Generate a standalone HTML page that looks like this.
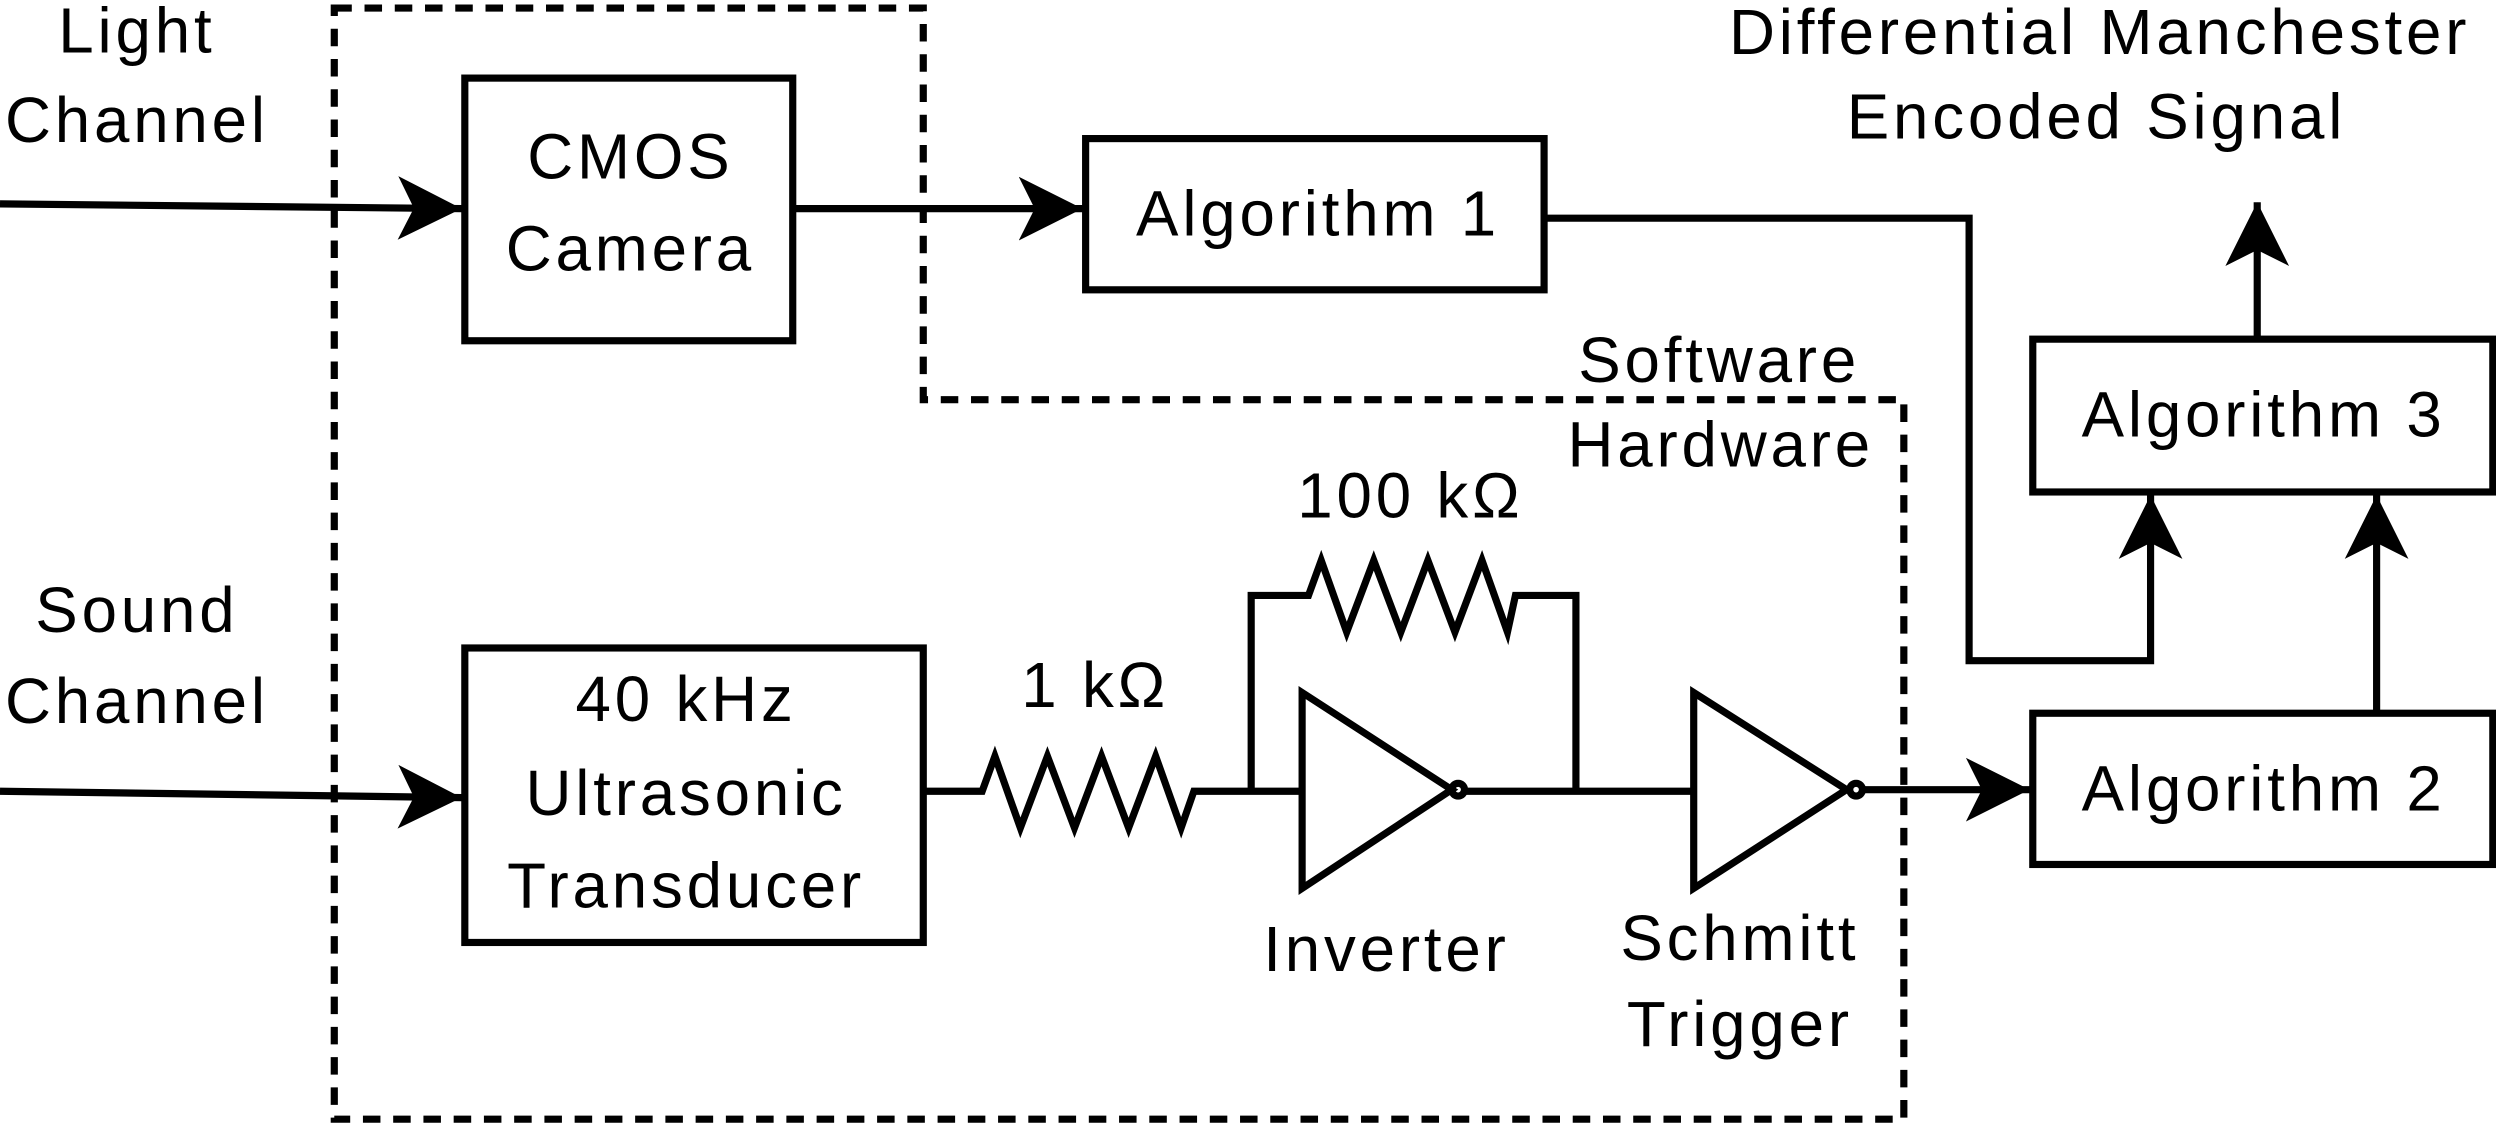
<!DOCTYPE html>
<html><head><meta charset="utf-8"><style>
html,body{margin:0;padding:0;background:#fff;}
svg{display:block;}
text{font-family:"Liberation Sans",Arial,sans-serif;font-size:40px;fill:#000;text-anchor:middle;letter-spacing:2.4px;}
</style></head><body>
<svg width="2496" height="1132" viewBox="0 0 1568 711" xmlns="http://www.w3.org/2000/svg">
<defs>
<marker id="ar" markerWidth="44" markerHeight="44" refX="40" refY="22" orient="auto" markerUnits="userSpaceOnUse">
<path d="M0,2 L40,22 L0,42 L10,22 Z" fill="#000"/>
</marker>
</defs>
<g fill="none" stroke="#000" stroke-width="4.5">
<path d="M210,5 H580 V251 H1196 V703 H210 Z" stroke-dasharray="11,8"/>
<rect x="292" y="49" width="206" height="165"/>
<rect x="682" y="87" width="288" height="95"/>
<rect x="1277" y="213" width="289" height="96"/>
<rect x="1277" y="448" width="289" height="95"/>
<rect x="292" y="407" width="288" height="185"/>
<path d="M0,128 L290,131" marker-end="url(#ar)"/>
<path d="M0,497 L290,501" marker-end="url(#ar)"/>
<path d="M498,131 H680" marker-end="url(#ar)"/>
<path d="M970,137 H1237 V415 H1351 V311" marker-end="url(#ar)"/>
<path d="M1493,448 V311" marker-end="url(#ar)"/>
<path d="M1418,213 V127" marker-end="url(#ar)"/>
<path d="M580,497 H617 L625,475 L641,520 L658,475 L675,520 L692,475 L709,520 L726,475 L742,520 L750,497 H818"/>
<path d="M786,497 V374 H822 L830,352 L846,397 L863,352 L880,397 L897,352 L914,397 L931,352 L947,397 L952,374 H990 V497"/>
<path d="M818,435 L818,558 L912,496 Z"/>
<circle cx="916" cy="496" r="4"/>
<path d="M920,497 H1064"/>
<path d="M1064,435 L1064,558 L1160,496 Z"/>
<circle cx="1166" cy="496" r="4"/>
<path d="M1170,496 H1275" marker-end="url(#ar)"/>
</g>
<text x="86" y="33">Light</text>
<text x="86" y="89">Channel</text>
<text x="86" y="397">Sound</text>
<text x="86" y="454">Channel</text>
<text x="396" y="112">CMOS</text>
<text x="396" y="170">Camera</text>
<text x="828" y="148">Algorithm 1</text>
<text x="1422" y="274">Algorithm 3</text>
<text x="1422" y="509">Algorithm 2</text>
<text x="1319" y="34">Differential Manchester</text>
<text x="1317" y="87">Encoded Signal</text>
<text x="1080" y="240">Software</text>
<text x="1081" y="293">Hardware</text>
<text x="886" y="325">100 kΩ</text>
<text x="688" y="444">1 kΩ</text>
<text x="431" y="453">40 kHz</text>
<text x="431" y="512">Ultrasonic</text>
<text x="431" y="570">Transducer</text>
<text x="871" y="610">Inverter</text>
<text x="1093" y="603">Schmitt</text>
<text x="1093" y="657">Trigger</text>
</svg>
</body></html>
